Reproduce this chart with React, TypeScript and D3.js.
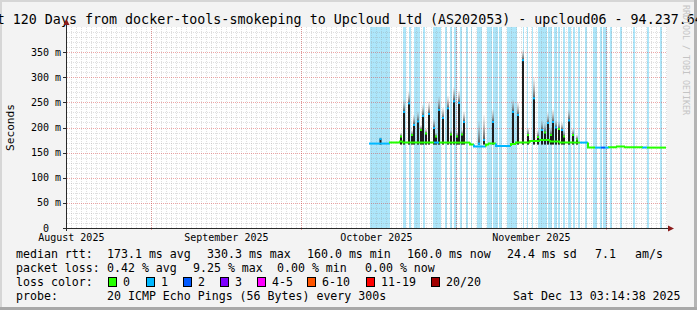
import React from 'react';
import * as d3 from 'd3';

const W = 697, H = 310;
const DAY = 86400000;
const START = Date.UTC(2025, 7, 15, 3, 14, 38);
const SPAN_DAYS = 120;

const titleText = 'Last 120 Days from docker-tools-smokeping to Upcloud Ltd (AS202053) - upcloud06 - 94.237.64.';
const yTicks = [0, 50, 100, 150, 200, 250, 300, 350];
const yTickLabels = ['0', '50 m', '100 m', '150 m', '200 m', '250 m', '300 m', '350 m'];
const monthLabels = ['August 2025', 'September 2025', 'October 2025', 'November 2025'];

// median runs: start day (days since start), median ms, lost pings
const medDay = [60.4, 64.6, 66.6, 67.2, 73.4, 74.4, 80.6, 81.4, 83.8, 84.4, 85.8, 88.8, 89.8, 92.6, 94.6, 96.6, 98.6, 101.4, 102.6, 104.2, 105.6, 106.8, 107.6, 108.4, 110.0, 111.6, 115.2, 116.0];
const medMs = [168, 170, 172, 170, 170, 170, 166, 162, 166, 168, 163, 167, 170, 173, 175, 172, 170, 170, 170, 160, 160, 160, 160, 160.5, 162, 160.5, 160, 160];
const medLoss = [1, 0, 0, 0, 1, 0, 0, 1, 0, 0, 1, 0, 0, 0, 0, 0, 0, 0, 1, 0, 1, 2, 1, 0, 0, 0, 1, 0];
const medEndDay = 119.8;

// smoke spikes: day, dark top (ms), faint smoke top (ms), loss at top
const spikeDay = [62.7, 66.8, 67.4, 68.4, 69.0, 69.4, 70.2, 70.8, 71.2, 71.8, 72.4, 73.4, 73.8, 74.4, 75.2, 76.2, 76.8, 77.4, 78.0, 78.4, 79.0, 79.4, 82.4, 83.4, 85.2, 89.2, 90.2, 91.2, 92.2, 93.4, 94.2, 95.0, 95.6, 96.2, 96.8, 97.2, 97.8, 98.4, 99.0, 99.4, 100.4, 101.2, 102.0];
const spikeTop = [177, 182, 231, 248, 185, 205, 212, 195, 223, 188, 227, 199, 182, 235, 219, 238, 186, 252, 182, 249, 186, 211, 168, 175, 211, 231, 225, 334, 185, 258, 181, 195, 190, 209, 185, 211, 200, 197, 195, 182, 214, 185, 176];
const spikeSmoke = [181, 190, 256, 272, 195, 226, 232, 205, 246, 198, 252, 218, 190, 262, 240, 263, 196, 280, 192, 273, 196, 232, 213, 225, 236, 256, 250, 355, 200, 300, 195, 215, 210, 230, 200, 236, 215, 212, 210, 195, 236, 198, 186];
const spikeLoss = [1, 0, 1, 1, 0, 1, 1, 0, 1, 0, 1, 1, 0, 1, 1, 1, 0, 1, 0, 1, 0, 1, 1, 1, 1, 1, 1, 1, 0, 1, 0, 1, 0, 1, 0, 1, 1, 0, 1, 0, 1, 0, 0];

// light-blue background bands (start day, end day)
const bandStart = [60.6, 67.2, 68.4, 69.4, 71.2, 73.2, 75.6, 76.6, 77.4, 78.6, 79.8, 80.8, 82.0, 84.0, 85.2, 86.4, 88.0, 91.2, 92.0, 93.0, 94.2, 96.2, 97.4, 98.2, 99.2, 100.2, 101.2, 102.2, 103.6, 105.2, 106.6, 107.2, 108.6, 110.6, 113.2, 116.0, 118.6];
const bandEnd = [64.6, 67.8, 68.8, 70.6, 71.6, 74.8, 76.0, 77.0, 78.0, 79.0, 80.2, 81.0, 83.0, 85.0, 86.2, 87.0, 90.0, 91.4, 92.2, 93.2, 96.0, 97.0, 98.0, 98.6, 99.6, 100.8, 101.6, 102.6, 104.0, 106.0, 107.0, 108.0, 109.0, 111.0, 113.6, 116.4, 119.0];

const lossLabels = ['0', '1', '2', '3', '4-5', '6-10', '11-19', '20/20'];
const lossColors = ['#26ff00', '#00b8ff', '#0059ff', '#7e00ff', '#ff00ff', '#ff5500', '#ff0000', '#a10000'];

const statRow1 = ['median rtt:', '173.1 ms avg', '330.3 ms max', '160.0 ms min', '160.0 ms now', '24.4 ms sd', '7.1', 'am/s'];
const statRow2 = ['packet loss:', '0.42 % avg', '9.25 % max', '0.00 % min', '0.00 % now'];
const probeRow = ['probe:', '20 ICMP Echo Pings (56 Bytes) every 300s', 'Sat Dec 13 03:14:38 2025'];

const MONO = '"DejaVu Sans Mono", "Liberation Mono", monospace';

function lossColor(n: number) {
  if (n <= 0) return lossColors[0];
  if (n === 1) return lossColors[1];
  if (n === 2) return lossColors[2];
  if (n === 3) return lossColors[3];
  if (n <= 5) return lossColors[4];
  if (n <= 10) return lossColors[5];
  if (n <= 19) return lossColors[6];
  return lossColors[7];
}

export default function App() {
  const startDate = new Date(START);
  const endDate = new Date(START + SPAN_DAYS * DAY);
  const x = d3.scaleUtc().domain([startDate, endDate]).range([67, 667]);
  const y = d3.scaleLinear().domain([0, 400]).range([228, 27]);
  const dx = (d: number) => x(new Date(START + d * DAY));
  const top = y(400), bottom = y(0), left = x(startDate), right = x(endDate);

  const days = d3.utcDay.range(new Date(START + 1), endDate);
  const months = d3.utcMonth.range(new Date(START + 1), endDate);
  const labelDates = d3.utcMonth.range(d3.utcMonth.floor(startDate), endDate).map(m => d3.utcDay.offset(m, 15));
  const minorY = d3.range(10, 400, 10).filter(v => v % 50 !== 0);

  const line = d3.line<[number, number]>().x(p => dx(p[0])).y(p => y(p[1]));
  const runs = medDay.map((d, i) => {
    const next = i < medDay.length - 1 ? medDay[i + 1] : medEndDay;
    const prev = i > 0 ? medMs[i - 1] : medMs[i];
    return { path: line([[d, prev], [d, medMs[i]], [next, medMs[i]]]) as string, color: lossColor(medLoss[i]) };
  });

  const col1 = [16, 107, 207, 307, 407, 507, 595, 635];
  const col2 = [16, 107, 193, 277, 365];
  const boxX = [108, 146, 183, 220, 257, 307, 366, 431];

  return (
    <svg width={W} height={H} style={{ position: 'absolute', left: 0, top: 0 }} fontFamily={MONO}>
      <defs>
        <linearGradient id="smoke" x1="0" y1="1" x2="0" y2="0">
          <stop offset="0" stopColor="#444" stopOpacity="0.9" />
          <stop offset="1" stopColor="#aaa" stopOpacity="0.1" />
        </linearGradient>
      </defs>
      <rect x={0} y={0} width={W} height={H} fill="#f3f3f3" />
      <rect x={0} y={0} width={W} height={2} fill="#d6d6d6" />
      <rect x={0} y={0} width={2} height={H} fill="#d6d6d6" />
      <rect x={W - 3} y={0} width={3} height={H} fill="#b4b4b4" />
      <rect x={0} y={H - 3} width={W} height={3} fill="#a8a8a8" />

      <text x={-27.4} y={24} fontSize={13.33} fill="#000">{titleText}</text>

      <rect x={left} y={top} width={right - left} height={bottom - top} fill="#fff" />

      {bandStart.map((s, i) => (
        <rect key={'b' + i} x={dx(s)} y={top} width={dx(bandEnd[i]) - dx(s)} height={bottom - top} fill="#ade6fa" />
      ))}

      {minorY.map(v => (
        <line key={'my' + v} x1={left} x2={right} y1={Math.round(y(v)) + 0.5} y2={Math.round(y(v)) + 0.5} stroke="rgba(150,150,150,0.3)" strokeDasharray="1 1" />
      ))}
      {days.map((d, i) => (
        <line key={'mx' + i} x1={Math.round(x(d)) + 0.5} x2={Math.round(x(d)) + 0.5} y1={top} y2={bottom} stroke="rgba(150,150,150,0.3)" strokeDasharray="1 1" />
      ))}
      {yTicks.slice(1).map(v => (
        <line key={'My' + v} x1={left} x2={right} y1={Math.round(y(v)) + 0.5} y2={Math.round(y(v)) + 0.5} stroke="rgba(215,60,60,0.45)" strokeDasharray="1 1" />
      ))}
      {months.map((m, i) => (
        <line key={'Mx' + i} x1={Math.round(x(m)) + 0.5} x2={Math.round(x(m)) + 0.5} y1={top} y2={bottom + 3} stroke="rgba(215,60,60,0.45)" strokeDasharray="1 1" />
      ))}

      {spikeDay.map((d, i) => {
        const xx = dx(d) - 1;
        return (
          <g key={'s' + i}>
            <rect x={xx} y={y(spikeSmoke[i])} width={2} height={y(spikeTop[i]) - y(spikeSmoke[i])} fill="url(#smoke)" />
            <rect x={xx} y={y(spikeTop[i])} width={2} height={y(166) - y(spikeTop[i])} fill="#1e1e1e" />
            <rect x={xx} y={y(spikeTop[i]) - 1} width={2} height={2} fill={lossColor(spikeLoss[i])} />
          </g>
        );
      })}

      {runs.map((r, i) => (
        <path key={'r' + i} d={r.path} fill="none" stroke={r.color} strokeWidth={2} />
      ))}

      {/* axes */}
      <line x1={left - 3} x2={right + 2} y1={bottom + 0.5} y2={bottom + 0.5} stroke="#2a2a2a" />
      <line x1={left - 0.5} x2={left - 0.5} y1={bottom + 3} y2={top - 4} stroke="#2a2a2a" />
      <path d={`M${right + 1},${bottom - 2.5} L${right + 7},${bottom + 0.5} L${right + 1},${bottom + 3.5} Z`} fill="#8b1c1c" />
      <path d={`M${left - 3.5},${top - 2} L${left - 0.5},${top - 8} L${left + 2.5},${top - 2} Z`} fill="#8b1c1c" />
      {yTicks.map((v, i) => (
        <g key={'yt' + v}>
          <line x1={left - 4} x2={left} y1={Math.round(y(v)) + 0.5} y2={Math.round(y(v)) + 0.5} stroke="#2a2a2a" />
          <text x={v === 0 ? 49 : 61} y={y(v) + 3.5} fontSize={10} textAnchor="end" fill="#000">{yTickLabels[i]}</text>
        </g>
      ))}
      {labelDates.map((d, i) => (
        x(d) >= left && x(d) <= right ? (
          <text key={'xl' + i} x={x(d)} y={241} fontSize={10} textAnchor="middle" fill="#000">{monthLabels[i]}</text>
        ) : null
      ))}
      <text transform={`translate(14,${(top + bottom) / 2}) rotate(-90)`} fontSize={11.2} textAnchor="middle" fill="#000">Seconds</text>
      <text transform="translate(683,5) rotate(90)" fontSize={8.3} fill="#c4c4c4">RRDTOOL / TOBI OETIKER</text>

      {/* legend */}
      <g fontSize={11.6} fill="#000">
        {statRow1.map((t, i) => <text key={'r1' + i} x={col1[i]} y={258}>{t}</text>)}
        {statRow2.map((t, i) => <text key={'r2' + i} x={col2[i]} y={272}>{t}</text>)}
        <text x={16} y={286}>loss color:</text>
        {lossLabels.map((t, i) => (
          <g key={'lc' + i}>
            <rect x={boxX[i] + 0.5} y={277.5} width={8} height={9} fill={lossColors[i]} stroke="#000" />
            <text x={boxX[i] + 15} y={286}>{t}</text>
          </g>
        ))}
        <text x={16} y={300}>{probeRow[0]}</text>
        <text x={107} y={300}>{probeRow[1]}</text>
        <text x={513} y={300}>{probeRow[2]}</text>
      </g>
    </svg>
  );
}
